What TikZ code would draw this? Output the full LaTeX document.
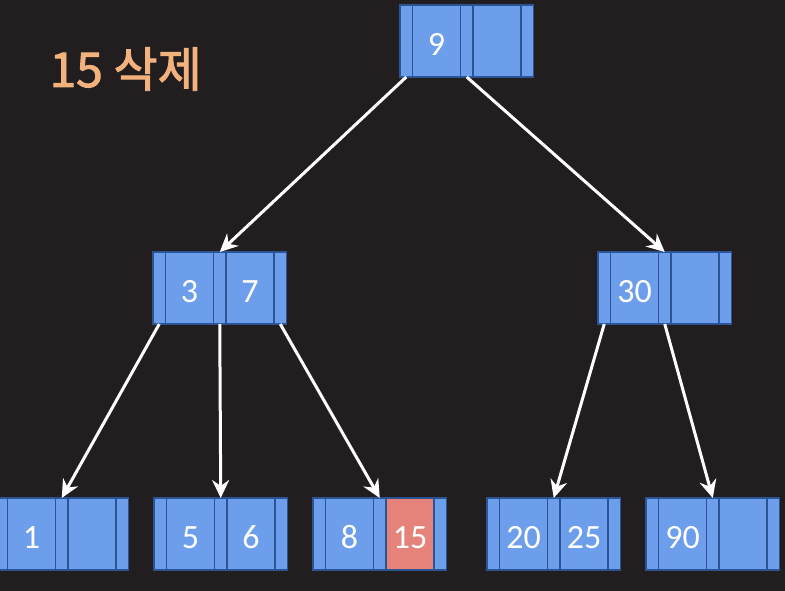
\documentclass[tikz,border=0pt]{standalone}
\usepackage{fontspec}
\setmainfont{Carlito}
\newfontfamily\kofont{Noto Sans CJK KR}[FakeBold=2]
\usetikzlibrary{positioning,arrows.meta}

\definecolor{bgdark}{HTML}{221E1F}
\definecolor{slotblue}{HTML}{6D9EEB}
\definecolor{slotline}{HTML}{2A5494}
\definecolor{delred}{HTML}{E5837A}
\definecolor{titleorange}{HTML}{F2B27E}

\tikzset{
  slot/.style={draw=slotline, fill=slotblue, line width=1.5pt, inner sep=0pt,
    outer sep=0pt, minimum height=72pt},
  ptrslot/.style={slot, minimum width=12.5pt},
  keyslot/.style={slot, minimum width=48pt, text=white, font=\fontsize{34}{34}\selectfont,
    text height=29pt, text depth=0pt},
  delslot/.style={fill=delred, draw=slotline},
  ptr/.style={draw=white, line width=3pt, -{Stealth[length=18pt,width=17pt,inset=6pt]}}
}

% one B-tree node: [style of 2nd key]{name}{left x}{top y}{key 1}{key 2}
\newcommand{\bnode}[6][]{
  \node[ptrslot] (#2-p0) at (#3+6.25,#4+36) {};
  \node[keyslot, right=0pt of #2-p0] (#2-k1) {#5};
  \node[ptrslot, right=0pt of #2-k1] (#2-p1) {};
  \node[keyslot, right=0pt of #2-p1, #1] (#2-k2) {#6};
  \node[ptrslot, right=0pt of #2-k2] (#2-p2) {};
}

\begin{document}
\begin{tikzpicture}[x=1pt, y=-1pt]
  \fill[bgdark] (0,0) rectangle (785,591);
  \clip (0,0) rectangle (785,591);

  \node[anchor=base west, text=titleorange, font=\kofont\fontsize{48}{48}\selectfont]
    (title) at (46,87) {15 삭제};

  % root
  \bnode{root}{400}{5}{9}{}
  % internal nodes
  \bnode{midl}{153}{252}{3}{7}
  \bnode{midr}{598}{252}{30}{}
  % leaves
  \bnode{leafa}{-5}{498}{1}{}
  \bnode{leafb}{154}{498}{5}{6}
  \bnode[delslot]{leafc}{313}{498}{8}{15}
  \bnode{leafd}{487}{498}{20}{25}
  \bnode{leafe}{646}{498}{90}{}

  \draw[ptr] (root-p0.south) -- (midl-p1.north);
  \draw[ptr] (root-p1.south) -- (midr-p1.north);
  \draw[ptr] (midl-p0.south) -- (leafa-p1.north);
  \draw[ptr] (midl-p1.south) -- (leafb-p1.north);
  \draw[ptr] (midl-p2.south) -- (leafc-p1.north);
  \draw[ptr] (midr-p0.south) -- (leafd-p1.north);
  \draw[ptr] (midr-p1.south) -- (leafe-p1.north);
\end{tikzpicture}
\end{document}
